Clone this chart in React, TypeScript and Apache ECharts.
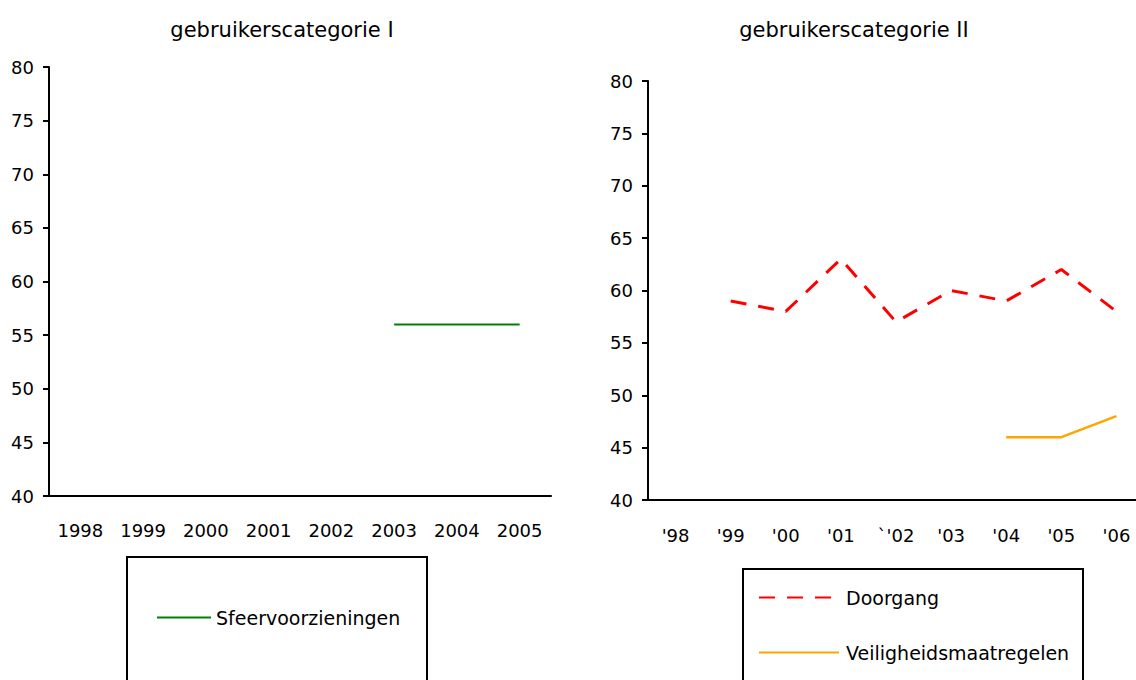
import React, { useEffect, useRef } from "react";
import * as echarts from "echarts";

const yearsI = ["1998", "1999", "2000", "2001", "2002", "2003", "2004", "2005"];
const sfeervoorzieningen = [null, null, null, null, null, 56, 56, 56];

const yearsII = ["'98", "'99", "'00", "'01", "`'02", "'03", "'04", "'05", "'06"];
const doorgang = [null, 59, 58, 63, 57, 60, 59, 62, 58];
const veiligheidsmaatregelen = [null, null, null, null, null, null, 46, 46, 48];

const titleI = "gebruikerscategorie I";
const titleII = "gebruikerscategorie II";

const FONT = "DejaVu Sans";

export default function App() {
  const ref = useRef<HTMLDivElement>(null);
  useEffect(() => {
    if (!ref.current) return;
    const chart = echarts.init(ref.current, null, { renderer: "svg" });
    const axisLine = { show: true, lineStyle: { color: "#000", width: 2 } };
    const labelStyle = { color: "#000", fontSize: 18, fontFamily: FONT };
    const yAxisBase = {
      type: "value",
      min: 40,
      max: 80,
      interval: 5,
      axisLine,
      axisTick: { show: true, length: 6, lineStyle: { color: "#000", width: 2 } },
      axisLabel: { ...labelStyle, margin: 15 },
      splitLine: { show: false },
    };
    const xAxisBase = {
      type: "category",
      boundaryGap: true,
      axisLine,
      axisTick: { show: false },
      axisLabel: { ...labelStyle, margin: 25 },
    };
    const titleStyle = { color: "#000", fontSize: 21, fontWeight: "normal", fontFamily: FONT };
    const legendText = { color: "#000", fontSize: 19, fontFamily: FONT, lineHeight: 19 };
    chart.setOption({
      animation: false,
      backgroundColor: "#fff",
      textStyle: { fontFamily: FONT },
      title: [
        { text: titleI, left: 277, top: 14, textAlign: "center", textStyle: titleStyle },
        { text: titleII, left: 849, top: 14, textAlign: "center", textStyle: titleStyle },
      ],
      grid: [
        { left: 49, top: 67, width: 502, height: 429 },
        { left: 648, top: 81, width: 496, height: 419 },
      ],
      xAxis: [
        { ...xAxisBase, gridIndex: 0, data: yearsI },
        { ...xAxisBase, gridIndex: 1, data: yearsII, axisLabel: { ...labelStyle, margin: 26 } },
      ],
      yAxis: [
        { ...yAxisBase, gridIndex: 0 },
        { ...yAxisBase, gridIndex: 1 },
      ],
      legend: [
        {
          data: ["Sfeervoorzieningen"],
          left: 156,
          top: 608,
          padding: 0,
          orient: "vertical",
          itemWidth: 54,
          itemHeight: 16,
          itemGap: 36,
          itemStyle: { opacity: 0 },
          textStyle: { ...legendText, padding: [0, 0, 0, 0] },
        },
        {
          data: ["Doorgang", "Veiligheidsmaatregelen"],
          left: 758,
          top: 588,
          padding: 0,
          orient: "vertical",
          itemWidth: 80,
          itemHeight: 16,
          itemGap: 36,
          itemStyle: { opacity: 0 },
          textStyle: { ...legendText, padding: [0, 0, 0, 2] },
        },
      ],
      graphic: [
        { type: "rect", shape: { x: 127, y: 557, width: 300, height: 140 }, style: { fill: "none", stroke: "#000", lineWidth: 2 }, silent: true },
        { type: "rect", shape: { x: 743, y: 569, width: 340, height: 130 }, style: { fill: "none", stroke: "#000", lineWidth: 2 }, silent: true },
      ],
      series: [
        {
          name: "Sfeervoorzieningen",
          type: "line",
          xAxisIndex: 0,
          yAxisIndex: 0,
          data: sfeervoorzieningen,
          symbol: "none",
          lineStyle: { color: "#008000", width: 2 },
          itemStyle: { color: "#008000" },
        },
        {
          name: "Doorgang",
          type: "line",
          xAxisIndex: 1,
          yAxisIndex: 1,
          data: doorgang,
          symbol: "none",
          lineStyle: { color: "#ff0000", width: 3, type: [16, 12] },
          itemStyle: { color: "#ff0000" },
        },
        {
          name: "Veiligheidsmaatregelen",
          type: "line",
          xAxisIndex: 1,
          yAxisIndex: 1,
          data: veiligheidsmaatregelen,
          symbol: "none",
          lineStyle: { color: "#ffa500", width: 2.5 },
          itemStyle: { color: "#ffa500" },
        },
      ],
    });
    return () => chart.dispose();
  }, []);
  return (
    <div style={{ position: "absolute", left: 0, top: 0, width: 1136, height: 680, overflow: "hidden" }}>
      <div ref={ref} style={{ width: 1160, height: 680 }} />
    </div>
  );
}
